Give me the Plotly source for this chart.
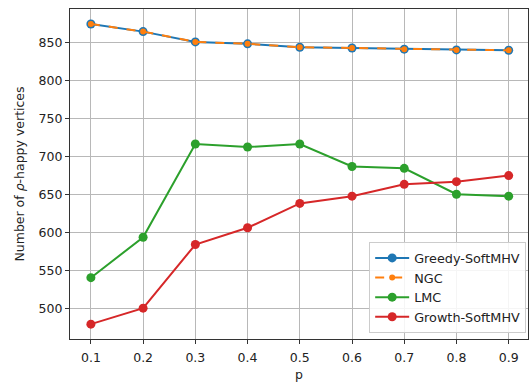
import plotly.graph_objects as go

p_values = [0.1, 0.2, 0.3, 0.4, 0.5, 0.6, 0.7, 0.8, 0.9]
greedy_softmhv = [874, 864, 850.5, 848, 843.5, 842.5, 841, 840, 839.5]
ngc = [874, 864, 850.5, 848, 843.5, 842.5, 841, 840, 839.5]
lmc = [541, 594, 716.5, 712.5, 716.5, 687, 684.5, 650.5, 648]
growth_softmhv = [480, 501, 584.5, 606.5, 638.5, 648, 663.5, 667, 675]

x_ticks = [0.1, 0.2, 0.3, 0.4, 0.5, 0.6, 0.7, 0.8, 0.9]
x_tick_labels = ["0.1", "0.2", "0.3", "0.4", "0.5", "0.6", "0.7", "0.8", "0.9"]
y_ticks = [500, 550, 600, 650, 700, 750, 800, 850]

FONT = "DejaVu Sans"

fig = go.Figure()
fig.add_trace(go.Scatter(x=p_values, y=greedy_softmhv, name="Greedy-SoftMHV",
                         mode="lines+markers",
                         line=dict(color="#1f77b4", width=2),
                         marker=dict(color="#1f77b4", size=9)))
fig.add_trace(go.Scatter(x=p_values, y=ngc, name="NGC",
                         mode="lines+markers",
                         line=dict(color="#ff7f0e", width=2, dash="dash"),
                         marker=dict(color="#ff7f0e", size=6)))
fig.add_trace(go.Scatter(x=p_values, y=lmc, name="LMC",
                         mode="lines+markers",
                         line=dict(color="#2ca02c", width=2),
                         marker=dict(color="#2ca02c", size=9)))
fig.add_trace(go.Scatter(x=p_values, y=growth_softmhv, name="Growth-SoftMHV",
                         mode="lines+markers",
                         line=dict(color="#d62728", width=2),
                         marker=dict(color="#d62728", size=9)))

axis_common = dict(showline=True, linecolor="#333333", linewidth=1.2, mirror=True,
                   showgrid=True, gridcolor="#b8b8b8", gridwidth=1,
                   ticks="outside", ticklen=4, tickcolor="#333333",
                   zeroline=False,
                   tickfont=dict(family=FONT, size=12.5, color="#222222"))

fig.update_layout(
    width=529, height=382,
    margin=dict(l=70, r=0, t=9, b=41),
    paper_bgcolor="white", plot_bgcolor="white",
    font=dict(family=FONT, size=12.5, color="#222222"),
    showlegend=True,
    legend=dict(x=0.996, y=0.018, xanchor="right", yanchor="bottom",
                bgcolor="rgba(255,255,255,0.85)", bordercolor="#cccccc", borderwidth=1,
                font=dict(family=FONT, size=12.8, color="#222222"),
                tracegroupgap=0, itemwidth=34),
    xaxis=dict(range=[0.06, 0.937], tickvals=x_ticks, ticktext=x_tick_labels,
               ticklabelstandoff=3,
               title=dict(text="p", font=dict(family=FONT, size=12.5), standoff=8),
               **axis_common),
    yaxis=dict(range=[460.5, 893.7], tickvals=y_ticks,
               title=dict(text="Number of <i>ρ</i>-happy vertices",
                          font=dict(family=FONT, size=12.5), standoff=11),
               **axis_common),
)

fig.write_html("out.html", config={"displayModeBar": False},
               post_script="document.body.style.margin='0';document.body.style.overflow='hidden';")
